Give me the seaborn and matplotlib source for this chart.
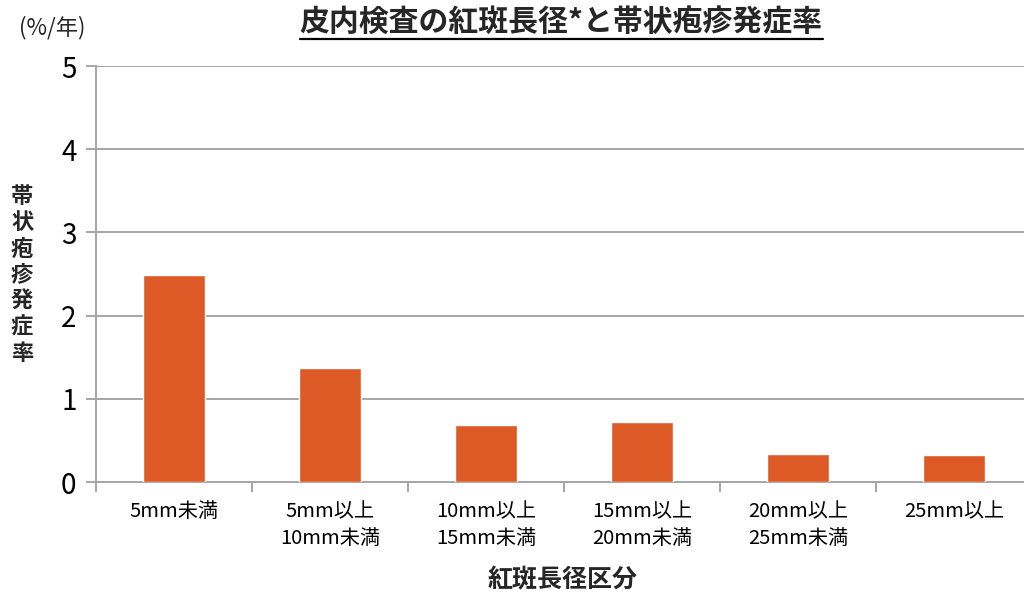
import matplotlib
matplotlib.use("Agg")
import matplotlib.pyplot as plt
import seaborn as sns
import pandas as pd
import numpy as np
from matplotlib.lines import Line2D

categories = ["5mm未満", "5mm以上\n10mm未満", "10mm以上\n15mm未満",
              "15mm以上\n20mm未満", "20mm以上\n25mm未満", "25mm以上"]
rates = [2.49, 1.37, 0.69, 0.72, 0.34, 0.33]
yticks = [0, 1, 2, 3, 4, 5]

title = "皮内検査の紅斑長径*と帯状疱疹発症率"
ylabel = "帯状疱疹発症率"
xlabel = "紅斑長径区分"
unit = "(%/年)"

sns.set_theme(style="white")
plt.rcParams['font.family'] = ['Noto Sans CJK JP', 'DejaVu Sans']

df = pd.DataFrame({"cat": categories, "rate": rates})

W, H = 1024, 595
fig = plt.figure(figsize=(W / 100, H / 100), dpi=100)
ax = fig.add_axes([96 / W, (H - 482) / H, 936 / W, (482 - 66) / H])

grey = "#A6A6A6"
sns.barplot(data=df, x="cat", y="rate", order=categories, color="#DD5A26",
            width=0.4, ax=ax, zorder=3, saturation=1)

ax.set_xlim(-0.5, len(categories) - 0.5)
ax.set_ylim(0, 5)
ax.set_yticks(yticks)
ax.set_yticklabels([str(v) for v in yticks], fontsize=20)
ax.yaxis.grid(True, color=grey, linewidth=1.4, zorder=0)
ax.set_axisbelow(True)

for s in ["top", "right"]:
    ax.spines[s].set_visible(False)
for s in ["left", "bottom"]:
    ax.spines[s].set_color(grey)
    ax.spines[s].set_linewidth(1.4)

ax.tick_params(axis="y", which="major", left=True, length=7, width=1.4,
               color=grey, pad=7, labelcolor="black")
ax.set_xticks(range(len(categories)))
ax.set_xticklabels(categories, fontsize=14.5, linespacing=1.35)
ax.tick_params(axis="x", which="major", length=0, pad=14, labelcolor="black")
ax.set_xticks(np.arange(-0.5, len(categories), 1.0), minor=True)
ax.tick_params(axis="x", which="minor", bottom=True, length=7, width=1.4, color=grey)

ax.set_xlabel("")
ax.set_ylabel("")

fig.text(563 / W, 1 - 580 / H, xlabel, fontsize=18, fontweight="bold",
         ha="center", va="center")
fig.text(22 / W, 1 - 275 / H, "\n".join(ylabel), fontsize=16, fontweight="bold",
         ha="center", va="center", linespacing=1.17)
fig.text(52 / W, 1 - 28 / H, unit, fontsize=16, ha="center", va="center")

t = fig.text(561 / W, 1 - 22 / H, title, fontsize=21.5, fontweight="bold",
             ha="center", va="center")
fig.canvas.draw()
bb = t.get_window_extent(renderer=fig.canvas.get_renderer())
uy = (H - 39) / H
fig.add_artist(Line2D([bb.x0 / W, bb.x1 / W], [uy, uy], transform=fig.transFigure,
                      color="black", linewidth=1.6))

fig.savefig("out.png", dpi=100)
